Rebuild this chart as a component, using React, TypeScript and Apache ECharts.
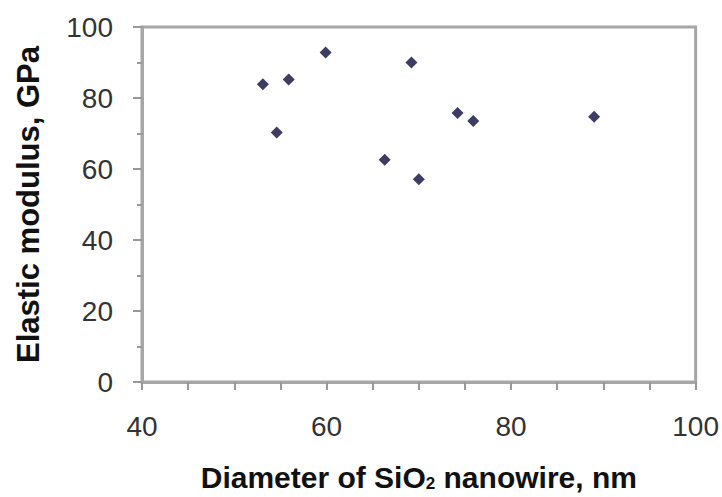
import React, { useEffect, useRef } from "react";
import * as echarts from "echarts";

const diameters = [53.1, 55.9, 59.9, 54.6, 69.2, 74.2, 75.9, 66.3, 70.0, 89.0];
const moduli = [83.9, 85.2, 92.8, 70.3, 90.0, 75.8, 73.5, 62.6, 57.1, 74.7];
const xRange = [40, 100];
const yRange = [0, 100];
const xTitleParts = ["Diameter of SiO", "2", " nanowire, nm"];
const yTitle = "Elastic modulus, GPa";

const FONT = "'Liberation Sans', Arial, sans-serif";
const GREY = "#a6a6a6";

export default function App() {
  const ref = useRef<HTMLDivElement>(null);
  useEffect(() => {
    const chart = echarts.init(ref.current!, null, { renderer: "svg" });
    const points = diameters.map((d, i) => [d, moduli[i]]);
    chart.setOption({
      animation: false,
      backgroundColor: "#ffffff",
      grid: {
        left: 142,
        top: 27,
        right: 26,
        bottom: 107,
        show: true,
        borderColor: GREY,
        borderWidth: 3,
        backgroundColor: "transparent",
      },
      xAxis: {
        type: "value",
        min: xRange[0],
        max: xRange[1],
        interval: 20,
        axisLine: { show: true, lineStyle: { color: GREY, width: 3 } },
        axisTick: { show: true, inside: false, length: 8, lineStyle: { color: "#999", width: 2 } },
        minorTick: { show: true, splitNumber: 4, length: 8, lineStyle: { color: "#999", width: 2 } },
        splitLine: { show: false },
        minorSplitLine: { show: false },
        axisLabel: { fontSize: 28, color: "#333", margin: 30, fontFamily: FONT },
        name: `{b|${xTitleParts[0]}}{s|${xTitleParts[1]}}{b|${xTitleParts[2]}}`,
        nameLocation: "middle",
        nameGap: 80,
        nameTextStyle: {
          rich: {
            b: { fontSize: 30, fontWeight: "bold", color: "#111", fontFamily: FONT },
            s: { fontSize: 17, fontWeight: "bold", color: "#111", fontFamily: FONT, verticalAlign: "bottom" },
          },
        },
      },
      yAxis: {
        type: "value",
        min: yRange[0],
        max: yRange[1],
        interval: 20,
        axisLine: { show: true, lineStyle: { color: GREY, width: 3 } },
        axisTick: { show: true, inside: false, length: 9, lineStyle: { color: "#999", width: 2 } },
        minorTick: { show: true, splitNumber: 2, length: 5, lineStyle: { color: "#999", width: 2 } },
        splitLine: { show: false },
        minorSplitLine: { show: false },
        axisLabel: { fontSize: 28, color: "#333", margin: 29, fontFamily: FONT },
        name: yTitle,
        nameLocation: "middle",
        nameGap: 98,
        nameTextStyle: { fontSize: 31, fontWeight: "bold", color: "#111", fontFamily: FONT },
      },
      series: [
        {
          type: "scatter",
          data: points,
          symbol: "diamond",
          symbolSize: 12,
          itemStyle: { color: "#0c0c3c" },
        },
      ],
    });
    return () => chart.dispose();
  }, []);
  return (
    <div
      ref={ref}
      style={{ position: "fixed", left: 0, top: 0, width: 722, height: 497, background: "#fff" }}
    />
  );
}
